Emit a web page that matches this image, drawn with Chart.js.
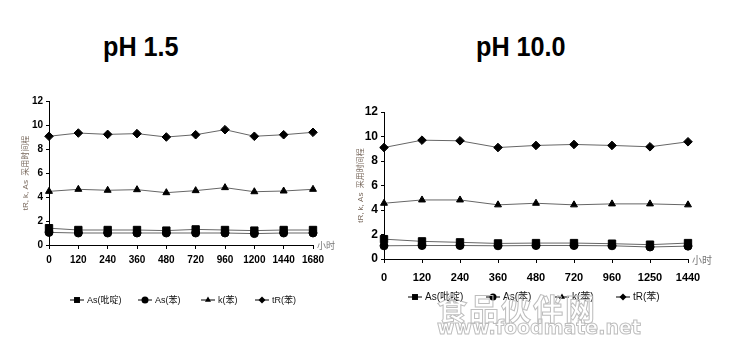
<!DOCTYPE html>
<html><head><meta charset="utf-8">
<script src="https://cdn.jsdelivr.net/npm/chart.js@4/dist/chart.umd.min.js"></script>
<style>
body{margin:0;width:729px;height:349px;background:#fff;position:relative;overflow:hidden;font-family:"Liberation Sans",Arial,sans-serif}
.t{position:absolute;font-weight:bold;font-size:28px;color:#000;line-height:1;transform:scaleX(0.9);transform-origin:left top}
canvas{position:absolute;top:0}
.wm{position:absolute;color:transparent;-webkit-text-stroke:1px #bdbdbd;font-weight:bold;white-space:nowrap}
</style></head><body>
<div class="t" style="left:103px;top:33px">pH 1.5</div>
<div class="t" style="left:476px;top:33px">pH 10.0</div>
<canvas id="c1" width="364" height="349" style="left:0"></canvas>
<canvas id="c2" width="389" height="349" style="left:340px"></canvas>
<div class="wm" style="left:437px;top:285px;font-size:30px;font-family:'Noto Sans CJK SC';letter-spacing:2px">食品伙伴网</div>
<div class="wm" style="left:437px;top:316px;font-size:19px;font-family:'DejaVu Sans'">www.foodmate.net</div>
<script>
const leftCategories = ['0','120','240','360','480','720','960','1200','1440','1680'];
const leftAsPyridine = [1.4,1.25,1.25,1.25,1.2,1.3,1.25,1.2,1.25,1.25];
const leftAsBenzene  = [1.05,1.0,1.0,1.0,1.0,1.0,1.0,0.95,1.0,1.0];
const leftK          = [4.47,4.64,4.56,4.61,4.36,4.53,4.78,4.44,4.5,4.64];
const leftTR         = [9.06,9.33,9.22,9.28,9.0,9.19,9.61,9.06,9.19,9.39];

const rightCategories = ['0','120','240','360','480','720','960','1250','1440'];
const rightAsPyridine = [1.62,1.44,1.36,1.27,1.3,1.3,1.25,1.17,1.3];
const rightAsBenzene  = [1.08,1.1,1.1,1.08,1.1,1.1,1.08,0.98,1.05];
const rightK          = [4.55,4.82,4.82,4.42,4.55,4.42,4.5,4.5,4.42];
const rightTR         = [9.1,9.7,9.65,9.1,9.27,9.35,9.27,9.16,9.57];

const yMin = 0, yMax = 12, yStep = 2;
const seriesLabels = ['As(吡啶)','As(苯)','k(苯)','tR(苯)'];
const seriesMarkers = ['rect','circle','triangle','rectRot'];
const yTitle = 'tR, k, As  采用时间程';
const xUnit = '小时';

const narrow = '"Liberation Sans Narrow","Arial Narrow","Liberation Sans",Arial,sans-serif';

const extras = {
  id:'extras',
  afterDraw(chart, args, o){
    const ctx = chart.ctx, ca = chart.chartArea;
    ctx.save();
    ctx.fillStyle = '#777';
    ctx.font = o.unitFont + 'px "Noto Sans CJK SC"';
    ctx.textBaseline = 'middle';
    ctx.textAlign = 'left';
    ctx.fillText(xUnit, ca.right + 4, ca.bottom + 1);
    ctx.font = o.legFont + 'px "Liberation Sans","Noto Sans CJK SC",sans-serif';
    chart.data.datasets.forEach((ds, i) => {
      const x = o.legX[i], y = o.legY;
      ctx.strokeStyle = '#000'; ctx.lineWidth = 1;
      ctx.beginPath(); ctx.moveTo(x, y); ctx.lineTo(x + 14, y); ctx.stroke();
      ctx.fillStyle = '#000';
      Chart.helpers.drawPoint(ctx, {pointStyle: ds.pointStyle, radius: ds.pointStyle === 'rect' ? 4.2 : 3.5, rotation: 0}, x + 7, y);
      ctx.fillStyle = '#111';
      ctx.fillText(ds.label, x + 17, y + 0.5);
    });
    ctx.restore();
  }
};

function makeChart(id, cats, series, cfg){
  const datasets = series.map((d, i) => ({
    label: seriesLabels[i], data: d, pointStyle: seriesMarkers[i],
    borderColor: '#666', borderWidth: 1, backgroundColor: '#000',
    pointBackgroundColor: '#000', pointBorderColor: '#000',
    pointRadius: seriesMarkers[i] === 'rect' ? 5.2 : (seriesMarkers[i] === 'rectRot' ? 4.3 : 4), pointBorderWidth: 1, tension: 0
  }));
  return new Chart(document.getElementById(id), {
    type: 'line',
    data: {labels: cats, datasets},
    plugins: [extras],
    options: {
      responsive: false, animation: false,
      layout: {padding: cfg.pad},
      plugins: {legend: {display: false}, tooltip: {enabled: false}, extras: cfg.extras},
      scales: {
        x: {
          offset: false,
          grid: {drawOnChartArea: false, color: '#000', tickLength: 4},
          border: {color: '#000'},
          ticks: {color: '#000', font: {family: narrow, size: cfg.xFont, weight: 'bold'}, padding: cfg.xPad, maxRotation: 0, autoSkip: false},
          afterFit(s){ s.height = cfg.xH; }
        },
        y: {
          min: yMin, max: yMax,
          grid: {drawOnChartArea: false, color: '#000', tickLength: 3},
          border: {color: '#000'},
          ticks: {stepSize: yStep, color: '#000', font: {family: narrow, size: cfg.yFont, weight: 'bold'}, padding: 3},
          title: {display: true, text: yTitle, color: '#7a6a5e', font: {size: 8, family: '"Liberation Sans","Noto Sans CJK SC"'}, padding: 2},
          afterFit(s){ s.width = 30; }
        }
      }
    }
  });
}

makeChart('c1', leftCategories, [leftAsPyridine, leftAsBenzene, leftK, leftTR], {
  pad: {left: 19, right: 51, top: 101, bottom: 84},
  xH: 20, xFont: 10, yFont: 10, xPad: 5,
  extras: {unitFont: 9, legFont: 9, legY: 300, legX: [70, 138, 201, 255]}
});
makeChart('c2', rightCategories, [rightAsPyridine, rightAsBenzene, rightK, rightTR], {
  pad: {left: 14, right: 41, top: 112, bottom: 68},
  xH: 22, xFont: 11, yFont: 12, xPad: 8,
  extras: {unitFont: 10, legFont: 10, legY: 297, legX: [68, 146, 215, 276]}
});
</script>
</body></html>
